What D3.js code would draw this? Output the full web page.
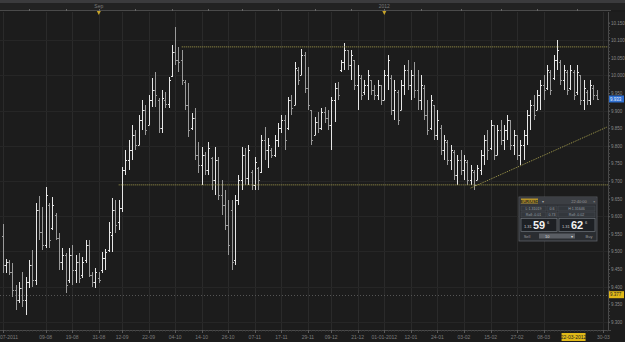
<!DOCTYPE html>
<html lang="en">
<head>
<meta charset="utf-8">
<title>EUR/USD daily bars</title>
<script src="https://cdn.jsdelivr.net/npm/d3@7"></script>
<style>
  html, body { margin: 0; padding: 0; background: #1c1c1c; overflow: hidden; }
  svg { display: block; font-family: "Liberation Sans", Arial, sans-serif; }
</style>
</head>
<body>
<div id="chart"></div>
<script>
// daily bars
var opens = [
  9.544, 9.461, 9.470, 9.442, 9.390, 9.362, 9.396, 9.362, 9.413, 9.461,
  9.419, 9.618, 9.555, 9.518, 9.632, 9.567, 9.603, 9.538, 9.470, 9.490,
  9.419, 9.490, 9.447, 9.470, 9.433, 9.476, 9.518, 9.433, 9.413, 9.424,
  9.447, 9.481, 9.504, 9.547, 9.618, 9.584, 9.623, 9.731, 9.760, 9.788,
  9.831, 9.802, 9.873, 9.902, 9.859, 9.930, 9.958, 9.930, 9.850, 9.930,
  9.919, 9.998, 10.066, 10.044, 10.044, 9.981, 9.916, 9.850, 9.879, 9.774,
  9.745, 9.774, 9.731, 9.765, 9.703, 9.760, 9.660, 9.632, 9.575, 9.618,
  9.476, 9.646, 9.703, 9.774, 9.708, 9.726, 9.689, 9.737, 9.726, 9.816,
  9.788, 9.788, 9.774, 9.816, 9.850, 9.873, 9.850, 9.930, 9.916, 10.015,
  10.001, 10.058, 9.964, 9.902, 9.831, 9.868, 9.850, 9.896, 9.879, 9.859,
  9.930, 9.964, 10.015, 10.038, 10.072, 10.029, 10.044, 9.973, 9.992, 9.953,
  9.973, 9.987, 9.958, 9.944, 9.973, 9.930, 10.001, 9.992, 9.902, 9.953,
  9.902, 9.973, 10.015, 9.973, 10.001, 9.958, 9.930, 9.964, 9.887, 9.850,
  9.916, 9.831, 9.850, 9.788, 9.811, 9.760, 9.782, 9.717, 9.760, 9.731,
  9.754, 9.703, 9.726, 9.703, 9.731, 9.774, 9.816, 9.794, 9.859, 9.774,
  9.845, 9.816, 9.845, 9.873, 9.802, 9.831, 9.774, 9.802, 9.831, 9.887,
  9.916, 9.902, 9.944, 9.973, 9.964, 10.010, 9.992, 10.044, 10.038, 9.987,
  10.010, 9.964, 10.010, 9.953, 10.001, 9.930, 9.953, 9.930, 9.964, 9.944
];
var highs = [
  9.578, 9.478, 9.476, 9.467, 9.405, 9.413, 9.442, 9.427, 9.476, 9.504,
  9.637, 9.657, 9.626, 9.683, 9.637, 9.655, 9.609, 9.552, 9.510, 9.495,
  9.510, 9.518, 9.490, 9.495, 9.484, 9.532, 9.532, 9.442, 9.453, 9.442,
  9.498, 9.507, 9.584, 9.652, 9.646, 9.646, 9.740, 9.788, 9.816, 9.859,
  9.845, 9.887, 9.930, 9.916, 9.944, 9.992, 10.010, 9.936, 9.958, 9.953,
  9.995, 10.086, 10.137, 10.081, 10.072, 9.987, 9.978, 9.893, 9.907, 9.811,
  9.797, 9.782, 9.811, 9.768, 9.797, 9.768, 9.703, 9.674, 9.646, 9.646,
  9.660, 9.717, 9.797, 9.794, 9.802, 9.731, 9.768, 9.740, 9.831, 9.853,
  9.822, 9.794, 9.831, 9.865, 9.887, 9.887, 9.939, 9.944, 10.038, 10.024,
  10.075, 10.066, 10.024, 9.902, 9.882, 9.896, 9.907, 9.910, 9.902, 9.939,
  9.978, 9.981, 10.044, 10.092, 10.072, 10.072, 10.044, 10.029, 10.001, 9.987,
  10.015, 9.987, 9.973, 9.987, 9.973, 10.015, 10.058, 10.001, 9.987, 9.958,
  9.987, 10.029, 10.044, 10.015, 10.038, 10.015, 10.001, 9.973, 9.930, 9.944,
  9.916, 9.902, 9.859, 9.831, 9.816, 9.802, 9.788, 9.774, 9.788, 9.774,
  9.760, 9.745, 9.731, 9.745, 9.788, 9.831, 9.845, 9.873, 9.859, 9.859,
  9.873, 9.859, 9.887, 9.873, 9.845, 9.831, 9.816, 9.845, 9.902, 9.930,
  9.944, 9.958, 9.987, 10.001, 10.029, 10.015, 10.058, 10.100, 10.044, 10.029,
  10.015, 10.029, 10.015, 10.029, 10.001, 9.987, 9.958, 9.987, 9.973, 9.958
];
var lows = [
  9.439, 9.439, 9.433, 9.371, 9.334, 9.353, 9.342, 9.319, 9.396, 9.399,
  9.405, 9.532, 9.504, 9.510, 9.510, 9.561, 9.532, 9.447, 9.447, 9.382,
  9.410, 9.405, 9.410, 9.410, 9.424, 9.467, 9.427, 9.399, 9.396, 9.410,
  9.439, 9.447, 9.498, 9.498, 9.552, 9.561, 9.612, 9.717, 9.731, 9.760,
  9.788, 9.802, 9.845, 9.831, 9.859, 9.910, 9.910, 9.836, 9.836, 9.907,
  9.907, 9.995, 10.029, 10.010, 9.973, 9.902, 9.825, 9.845, 9.760, 9.723,
  9.689, 9.717, 9.717, 9.674, 9.660, 9.646, 9.603, 9.561, 9.490, 9.447,
  9.461, 9.632, 9.674, 9.689, 9.689, 9.674, 9.674, 9.674, 9.723, 9.760,
  9.737, 9.765, 9.768, 9.797, 9.836, 9.788, 9.845, 9.887, 9.916, 9.973,
  10.001, 9.950, 9.902, 9.802, 9.831, 9.836, 9.845, 9.865, 9.845, 9.788,
  9.868, 9.930, 10.010, 10.015, 10.015, 9.987, 9.958, 9.902, 9.930, 9.944,
  9.930, 9.944, 9.930, 9.930, 9.916, 9.930, 9.958, 9.887, 9.873, 9.859,
  9.902, 9.944, 9.958, 9.930, 9.936, 9.902, 9.902, 9.873, 9.831, 9.845,
  9.816, 9.816, 9.774, 9.760, 9.745, 9.731, 9.703, 9.689, 9.717, 9.703,
  9.689, 9.689, 9.674, 9.703, 9.717, 9.745, 9.760, 9.788, 9.760, 9.774,
  9.802, 9.788, 9.816, 9.788, 9.774, 9.760, 9.745, 9.760, 9.802, 9.845,
  9.873, 9.902, 9.902, 9.930, 9.958, 9.944, 9.987, 10.015, 9.973, 9.958,
  9.944, 9.958, 9.930, 9.944, 9.916, 9.902, 9.916, 9.916, 9.930, 9.930
];
var closes = [
  9.461, 9.470, 9.442, 9.390, 9.362, 9.396, 9.362, 9.413, 9.461, 9.419,
  9.618, 9.555, 9.518, 9.660, 9.532, 9.632, 9.538, 9.470, 9.490, 9.405,
  9.490, 9.447, 9.470, 9.424, 9.470, 9.518, 9.433, 9.413, 9.442, 9.419,
  9.481, 9.498, 9.555, 9.618, 9.575, 9.623, 9.731, 9.760, 9.788, 9.831,
  9.802, 9.873, 9.902, 9.845, 9.930, 9.958, 9.944, 9.850, 9.936, 9.919,
  9.987, 10.066, 10.044, 10.038, 9.987, 9.916, 9.845, 9.879, 9.774, 9.745,
  9.774, 9.731, 9.794, 9.703, 9.760, 9.660, 9.632, 9.575, 9.518, 9.470,
  9.646, 9.703, 9.774, 9.708, 9.788, 9.689, 9.754, 9.703, 9.816, 9.788,
  9.802, 9.774, 9.816, 9.850, 9.873, 9.816, 9.930, 9.907, 10.021, 9.987,
  10.058, 9.964, 9.916, 9.816, 9.868, 9.850, 9.896, 9.879, 9.859, 9.930,
  9.964, 9.944, 10.038, 10.072, 10.029, 10.058, 9.973, 10.001, 9.944, 9.973,
  10.001, 9.958, 9.944, 9.973, 9.930, 10.001, 10.044, 9.902, 9.958, 9.873,
  9.973, 10.015, 9.973, 10.001, 9.958, 9.930, 9.973, 9.887, 9.845, 9.930,
  9.831, 9.873, 9.788, 9.816, 9.760, 9.788, 9.717, 9.760, 9.731, 9.760,
  9.703, 9.731, 9.689, 9.737, 9.774, 9.816, 9.788, 9.859, 9.774, 9.845,
  9.816, 9.845, 9.873, 9.802, 9.831, 9.774, 9.802, 9.831, 9.887, 9.916,
  9.887, 9.944, 9.973, 9.958, 10.015, 9.958, 10.044, 10.072, 9.987, 10.015,
  9.958, 10.015, 9.944, 10.010, 9.930, 9.964, 9.930, 9.973, 9.944, 9.933
];

// bottom date labels, by bar index
var dateTickIdx = [0, 13, 21, 29, 36, 44, 52, 60, 68, 76, 84, 92, 99, 107, 115, 123, 131, 139, 147, 155, 163, 181];
var dateTickLabels = ["28-07-2011", "09-08", "19-08", "31-08", "12-09", "22-09", "04-10", "14-10", "26-10", "07-11", "17-11",
  "29-11", "09-12", "21-12", "01-01-2012", "12-01", "24-01", "03-02", "15-02", "27-02", "08-03", "30-03"];
var cursorIdx = 172, cursorLabel = "22-03-2012";

// top strip: 1st and 15th of each month
var halfMonthIdx = [8, 19, 29, 40, 51, 62, 72, 83, 94, 105, 115, 126, 138, 150, 161, 173];
var periodIdx = [29, 115];
var periodLabels = ["Sep", "2012"];

// right price axis
var priceTicks = [9.30, 9.35, 9.40, 9.45, 9.50, 9.55, 9.60, 9.65, 9.70, 9.75, 9.80, 9.85, 9.90, 9.95, 10.00, 10.05, 10.10, 10.15];
var lastPrice = 9.933;
var markPrice = 9.377;

// drawn lines: [bar index, price]
var resistance = [[54, 10.081], [183, 10.081]];
var support = [[35, 9.689], [183, 9.689]];
var trendUp = [[141, 9.680], [182, 9.853]];

var W = 625, H = 342;
var plotL = 0, plotR = 608, plotT = 12, plotB = 330;

var svg = d3.select("#chart").append("svg")
  .attr("width", W).attr("height", H);

svg.append("rect").attr("width", W).attr("height", H).attr("fill", "#1c1c1c");
// top header strip
svg.append("rect").attr("x", 0).attr("y", 0).attr("width", W).attr("height", 3).attr("fill", "#3b3b3d");
svg.append("rect").attr("x", 0).attr("y", 3).attr("width", W).attr("height", 7).attr("fill", "#222222");

var x = d3.scaleLinear().domain([0, 179]).range([2.5, 596.8]);
var y = d3.scaleLinear().domain([9.7, 10.15]).range([181, 22.6]);
var px = function(v) { return Math.round(v) + 0.5; };

// grid
var grid = svg.append("g");
grid.selectAll("line.v").data(dateTickIdx).enter().append("line")
  .attr("x1", d => px(x(d))).attr("x2", d => px(x(d)))
  .attr("y1", plotT).attr("y2", plotB)
  .attr("stroke", "#2a2a2a").attr("stroke-width", 1);
grid.selectAll("line.h").data(priceTicks.filter((d, i) => i % 2 === 0)).enter().append("line")
  .attr("x1", plotL).attr("x2", plotR)
  .attr("y1", d => px(y(d))).attr("y2", d => px(y(d)))
  .attr("stroke", "#262626").attr("stroke-width", 1);

// top axis line and half-month ticks
svg.append("line").attr("x1", 0).attr("x2", 611).attr("y1", 10.5).attr("y2", 10.5)
  .attr("stroke", "#4a4a4a");
svg.selectAll("line.topt").data(halfMonthIdx).enter().append("line")
  .attr("x1", d => px(x(d))).attr("x2", d => px(x(d)))
  .attr("y1", 9).attr("y2", 11)
  .attr("stroke", "#666");
svg.selectAll("text.per").data(periodIdx).enter().append("text")
  .attr("x", d => x(d)).attr("y", 8)
  .attr("text-anchor", "middle").attr("font-size", 5).attr("fill", "#7a7a7a")
  .text((d, i) => periodLabels[i]);
svg.selectAll("path.mk").data(periodIdx).enter().append("path")
  .attr("d", d => { var c = x(d); return "M" + (c - 2) + ",11 L" + (c + 2) + ",11 L" + c + ",15 Z"; })
  .attr("fill", "#c9a52a");

// mark line (dotted gray) across chart
svg.append("line")
  .attr("x1", plotL).attr("x2", plotR)
  .attr("y1", px(y(markPrice))).attr("y2", px(y(markPrice)))
  .attr("stroke", "#555").attr("stroke-dasharray", "1,2");

// bars
var bars = d3.range(opens.length).map(i => ({ i: i, o: opens[i], h: highs[i], l: lows[i], c: closes[i] }));
var g = svg.append("g");
var barSel = g.selectAll("g.bar").data(bars).enter().append("g")
  .attr("stroke", d => d.c >= d.o ? "#e6e6e6" : "#9a9a9a")
  .attr("stroke-width", 1);
barSel.append("line")
  .attr("x1", d => px(x(d.i))).attr("x2", d => px(x(d.i)))
  .attr("y1", d => Math.round(y(d.h))).attr("y2", d => Math.round(y(d.l)));
barSel.append("line")
  .attr("x1", d => px(x(d.i)) - 1.5).attr("x2", d => px(x(d.i)))
  .attr("y1", d => px(y(d.o))).attr("y2", d => px(y(d.o)));
barSel.append("line")
  .attr("x1", d => px(x(d.i))).attr("x2", d => px(x(d.i)) + 1.5)
  .attr("y1", d => px(y(d.c))).attr("y2", d => px(y(d.c)));

// drawn lines
var lineGen = d3.line().x(d => x(d[0])).y(d => y(d[1]));
[resistance, support, trendUp].forEach(function(pts) {
  svg.append("path").datum(pts)
    .attr("d", lineGen)
    .attr("fill", "none")
    .attr("stroke", "#a49c4c")
    .attr("stroke-width", 1)
    .attr("stroke-dasharray", "1,1");
});

// right axis
svg.append("rect").attr("x", plotR).attr("y", plotT).attr("width", W - plotR).attr("height", plotB - plotT)
  .attr("fill", "#1e1e1e");
svg.append("line").attr("x1", plotR + 0.5).attr("x2", plotR + 0.5).attr("y1", plotT).attr("y2", plotB)
  .attr("stroke", "#4a4a4a");
var minor = d3.range(930, 1016).map(d => d / 100);
svg.selectAll("line.mt").data(minor).enter().append("line")
  .attr("x1", plotR).attr("x2", plotR + 2)
  .attr("y1", d => px(y(d))).attr("y2", d => px(y(d)))
  .attr("stroke", "#444");
var yAxis = d3.axisRight(y).tickValues(priceTicks).tickSize(2).tickFormat(d3.format(".3f"));
var ya = svg.append("g").attr("transform", "translate(" + plotR + ",0)").call(yAxis);
ya.select(".domain").remove();
ya.selectAll("line").attr("stroke", "#555");
ya.selectAll("text").attr("font-size", 4.5).attr("fill", "#8a8a8a").attr("x", 3)
  .attr("font-family", "Liberation Sans, Arial, sans-serif");

// price flags
function flag(v, txt, bg, fg) {
  var yy = y(v);
  svg.append("rect").attr("x", plotR + 1).attr("y", yy - 3.5).attr("width", 15).attr("height", 7).attr("fill", bg);
  svg.append("text").attr("x", plotR + 2).attr("y", yy + 1.8).attr("font-size", 4.5).attr("fill", fg).text(txt);
}
flag(lastPrice, lastPrice.toFixed(3), "#2f6fd0", "#e8f0ff");
flag(markPrice, markPrice.toFixed(3), "#e0b818", "#222");

// bottom axis
svg.append("line").attr("x1", 0).attr("x2", 611).attr("y1", plotB + 0.5).attr("y2", plotB + 0.5)
  .attr("stroke", "#4a4a4a");
svg.selectAll("line.bt").data(d3.range(0, 183)).enter().append("line")
  .attr("x1", d => px(x(d))).attr("x2", d => px(x(d)))
  .attr("y1", plotB).attr("y2", plotB + 1.5)
  .attr("stroke", "#3c3c3c");
svg.selectAll("line.bt2").data(dateTickIdx).enter().append("line")
  .attr("x1", d => px(x(d))).attr("x2", d => px(x(d)))
  .attr("y1", plotB).attr("y2", plotB + 3)
  .attr("stroke", "#5a5a5a");
svg.selectAll("text.dt").data(dateTickIdx).enter().append("text")
  .attr("x", d => d === 0 ? 0 : x(d)).attr("y", 339)
  .attr("text-anchor", d => d === 0 ? "start" : "middle").attr("font-size", 5).attr("fill", "#7c7c7c")
  .text((d, i) => d === 0 ? dateTickLabels[i].slice(3) : dateTickLabels[i]);
// cursor date flag
var cx = x(cursorIdx);
svg.append("rect").attr("x", cx - 12).attr("y", 333).attr("width", 24).attr("height", 8).attr("fill", "#e0b818");
svg.append("text").attr("x", cx).attr("y", 339).attr("text-anchor", "middle")
  .attr("font-size", 5).attr("fill", "#222").text(cursorLabel);

// trade ticket widget
var wg = svg.append("g").attr("transform", "translate(519,197)");
wg.append("rect").attr("width", 78).attr("height", 44).attr("fill", "#2a2d31").attr("stroke", "#5c6066").attr("stroke-width", 0.8);
wg.append("rect").attr("x", 0.5).attr("y", 0.5).attr("width", 77).attr("height", 7).attr("fill", "#3c3f44");
wg.append("rect").attr("x", 2).attr("y", 1.5).attr("width", 17).attr("height", 5).attr("fill", "#b8952a");
wg.append("text").attr("x", 10.5).attr("y", 5.5).attr("text-anchor", "middle").attr("font-size", 4).attr("font-weight", "bold").attr("fill", "#1e1e1e").text("EUR/USD");
wg.append("text").attr("x", 23).attr("y", 5.5).attr("font-size", 4).attr("fill", "#aaa").text("▾");
wg.append("text").attr("x", 60).attr("y", 5.5).attr("text-anchor", "middle").attr("font-size", 4).attr("fill", "#999").text("22:40:00");
wg.append("text").attr("x", 74).attr("y", 5.5).attr("font-size", 4).attr("fill", "#aaa").text("×");
var cells = [
  [2, 9, 25, "L:1.31019"], [28, 9, 10, "0.6"], [39, 9, 37, "H:1.31646"],
  [2, 15, 25, "Roll:-0.01"], [28, 15, 10, "0.73"], [39, 15, 37, "Roll:-0.02"]
];
cells.forEach(function(c) {
  wg.append("rect").attr("x", c[0]).attr("y", c[1]).attr("width", c[2]).attr("height", 5)
    .attr("fill", "#33373c").attr("stroke", "#4d5157").attr("stroke-width", 0.5);
  wg.append("text").attr("x", c[0] + c[2] / 2).attr("y", c[1] + 4).attr("text-anchor", "middle")
    .attr("font-size", 3.6).attr("fill", "#9aa0a8").text(c[3]);
});
[[2, "1.31", "59", "6"], [40, "1.31", "62", "6"]].forEach(function(b) {
  wg.append("rect").attr("x", b[0]).attr("y", 21.5).attr("width", 36).attr("height", 13)
    .attr("fill", "#1d2024").attr("stroke", "#70757c").attr("stroke-width", 0.7);
  wg.append("text").attr("x", b[0] + 3).attr("y", 31).attr("font-size", 4).attr("fill", "#ccc").text(b[1]);
  wg.append("text").attr("x", b[0] + 12).attr("y", 32).attr("font-size", 11).attr("font-weight", "bold").attr("fill", "#f2f2f2").text(b[2]);
  wg.append("text").attr("x", b[0] + 26).attr("y", 27).attr("font-size", 4).attr("fill", "#ccc").text(b[3]);
});
wg.append("text").attr("x", 8).attr("y", 40.5).attr("text-anchor", "middle").attr("font-size", 4).attr("fill", "#999").text("Sell");
wg.append("rect").attr("x", 20).attr("y", 36.5).attr("width", 36).attr("height", 5).attr("fill", "#5a5e64");
wg.append("text").attr("x", 26).attr("y", 40.5).attr("font-size", 4).attr("fill", "#ddd").text("10");
wg.append("text").attr("x", 52).attr("y", 40.5).attr("font-size", 4).attr("fill", "#ddd").text("▾");
wg.append("text").attr("x", 70).attr("y", 40.5).attr("text-anchor", "middle").attr("font-size", 4).attr("fill", "#999").text("Buy");
</script>
</body>
</html>
